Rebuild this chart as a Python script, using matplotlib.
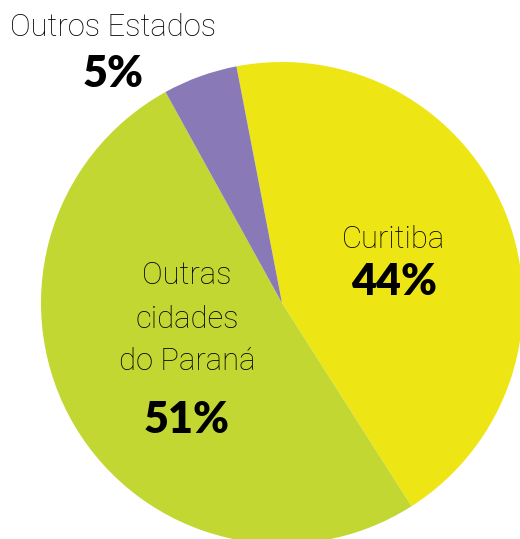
import matplotlib
matplotlib.use("Agg")
import matplotlib.pyplot as plt

categories = ["Curitiba", "Outras\ncidades\ndo Paraná", "Outros Estados"]
values = [44, 51, 5]
pct_labels = ["44%", "51%", "5%"]
colors = ["#EEE614", "#C2D731", "#8A79B7"]

W, H = 520, 539
fig = plt.figure(figsize=(W / 100, H / 100), dpi=100)
ax = fig.add_axes([0, 0, 1, 1])
ax.set_xlim(0, W)
ax.set_ylim(0, H)
ax.set_aspect("equal")
ax.axis("off")

cx, cy, r = 282, H - 303, 241
ax.pie(values, colors=colors, startangle=100.9, counterclock=False,
       center=(cx, cy), radius=r, frame=True,
       wedgeprops=dict(linewidth=0))
ax.set_xlim(0, W)
ax.set_ylim(0, H)
ax.axis("off")

light = dict(family="Roboto", fontweight="light", color="#000000")
bold = dict(family="Lato", fontweight="heavy", color="#000000")
fs_label = 22.3
fs_pct = 31

# Curitiba
ax.text(394, H - 239, categories[0], ha="center", va="center", fontsize=fs_label, **light)
ax.text(394, H - 282, pct_labels[0], ha="center", va="center", fontsize=fs_pct, **bold)

# Outras cidades do Paraná
for i, line in enumerate(categories[1].split("\n")):
    ax.text(187, H - (276 + 43 * i), line, ha="center", va="center", fontsize=fs_label, **light)
ax.text(187, H - 420, pct_labels[1], ha="center", va="center", fontsize=fs_pct, **bold)

# Outros Estados
ax.text(113, H - 27, categories[2], ha="center", va="center", fontsize=fs_label, **light)
ax.text(113, H - 74, pct_labels[2], ha="center", va="center", fontsize=fs_pct, **bold)

fig.savefig("out.png", dpi=100)
